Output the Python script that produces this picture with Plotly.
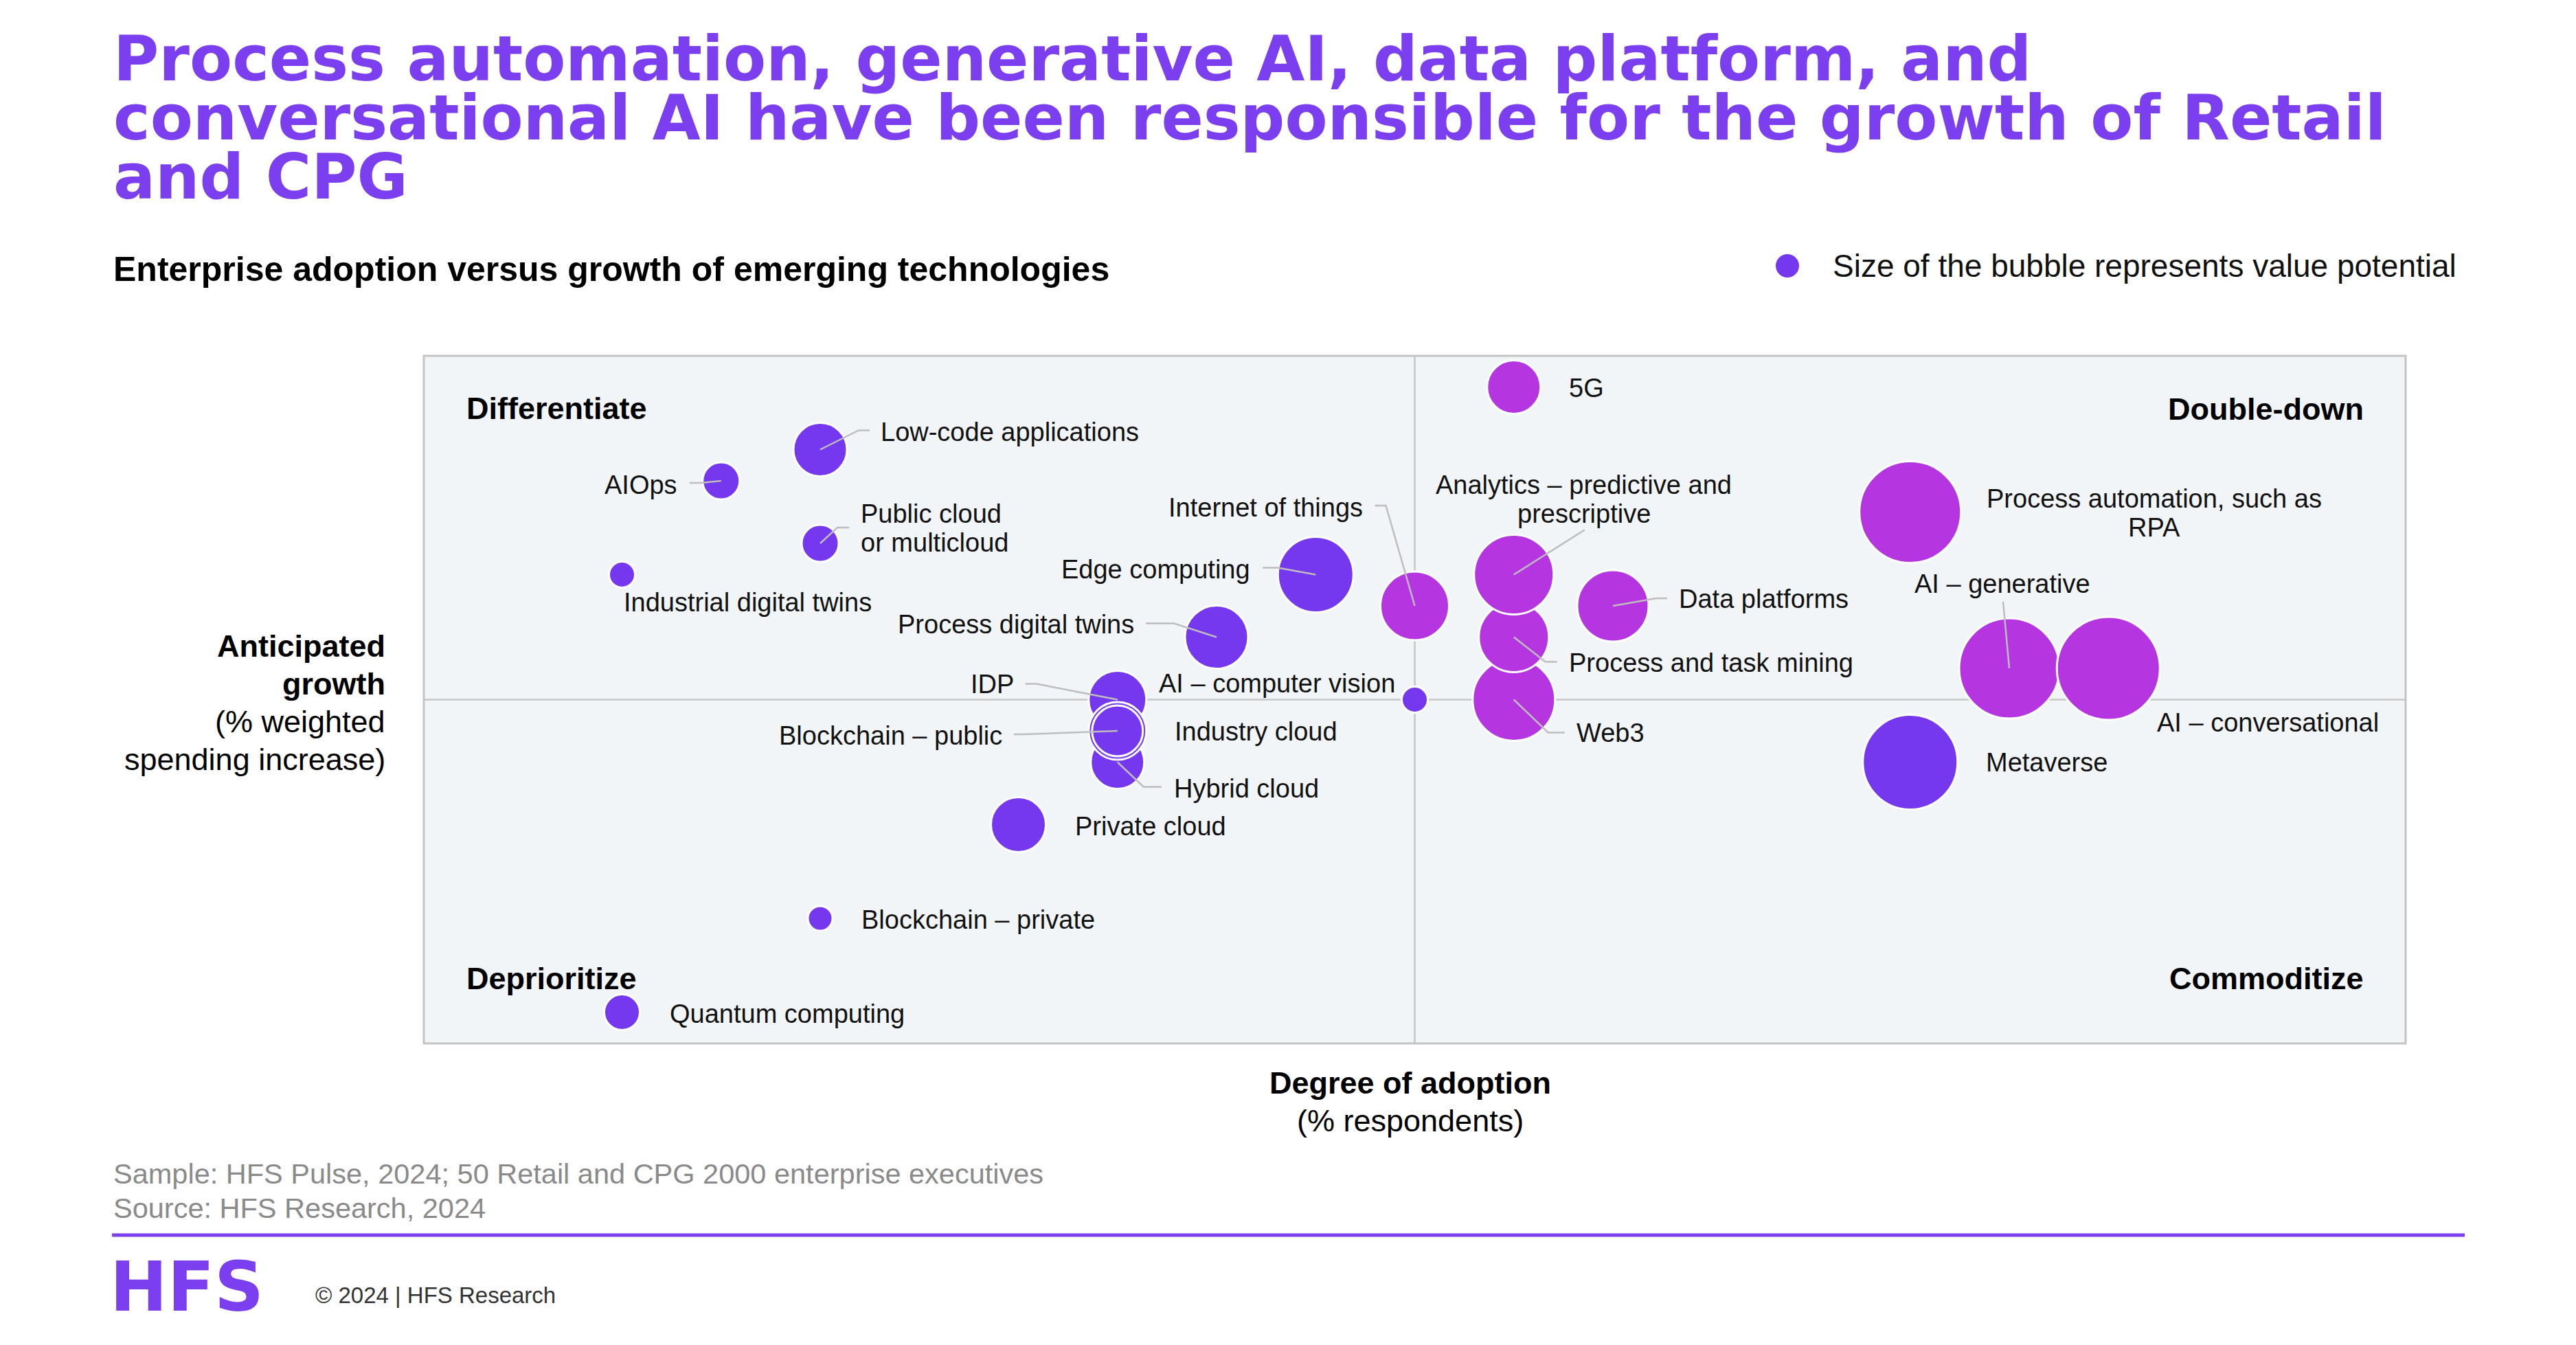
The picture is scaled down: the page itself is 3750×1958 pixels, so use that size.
import plotly.graph_objects as go

# ---------------- data ----------------
technologies = [
    "Industrial digital twins", "AIOps", "Quantum computing", "Low-code applications",
    "Public cloud or multicloud", "Blockchain – private", "Private cloud", "IDP",
    "Hybrid cloud", "Industry cloud", "Blockchain – public", "Process digital twins",
    "Edge computing", "Internet of things", "AI – computer vision", "5G", "Web3",
    "Process and task mining", "Analytics – predictive and prescriptive", "Data platforms",
    "Process automation, such as RPA", "Metaverse", "AI – generative", "AI – conversational",
]
adoption = [2, 3, 2, 4, 4, 4, 6, 7, 7, 7, 7, 8, 9, 10, 10, 11, 11, 11, 11, 12, 15, 15, 16, 17]
growth = [15, 18, 1, 19, 16, 4, 7, 11, 9, 10, 10, 13, 15, 14, 11, 21, 11, 13, 15, 14, 17, 9, 12, 12]
value_potential = [38, 54, 52, 78, 54, 36, 80, 84, 78, 84, 74, 92, 110, 100, 38, 78, 120, 102,
                   116, 104, 148, 138, 146, 150]
group = ["core", "core", "core", "core", "core", "core", "core", "core", "core", "core", "core",
         "core", "core", "growth", "core", "growth", "growth", "growth", "growth", "growth",
         "growth", "core", "growth", "growth"]

title_lines = ["Process automation, generative AI, data platform, and",
               "conversational AI have been responsible for the growth of Retail",
               "and CPG"]

x_range = [0, 20]
y_range = [0, 22]

# ---------------- styles / layout ----------------
W, H = 3750, 1958
PL, PR, PT, PB = 617, 3502, 518, 1519
VIOLET = "#7538EE"
MAGENTA = "#B536E0"
TITLE_C = "#7B3FF0"
color_map = {"core": VIOLET, "growth": MAGENTA}
LBL_FONT = "Liberation Sans, Arial, sans-serif"
LBL_SIZE = 38
LEADER = "#BDBDBD"


def fx(X):
    return (X - PL) / (PR - PL)


def fy(Y):
    return (PB - Y) / (PB - PT)


# label placement: lines, anchor, dx, dy (px, y down), leader points (px, y down)
labels = {
    "Low-code applications": (["Low-code applications"], "left", 86, -26, [(0, 0), (56, -28), (72, -28)]),
    "AIOps": (["AIOps"], "right", -62, 6, [(0, 0), (-30, 3), (-46, 3)]),
    "Public cloud or multicloud": (["Public cloud", "or multicloud"], "left", 57, -22,
                                   [(0, 0), (25, -23), (42, -23)]),
    "Industrial digital twins": (["Industrial digital twins"], "left", 0, 40, None),
    "Edge computing": (["Edge computing"], "right", -93, -8, [(0, 0), (-55, -10), (-77, -10)]),
    "Internet of things": (["Internet of things"], "right", -74, -143, [(0, 0), (-42, -146), (-58, -146)]),
    "Process digital twins": (["Process digital twins"], "right", -118, -19, [(0, 0), (-62, -20), (-103, -20)]),
    "IDP": (["IDP"], "right", -149, -23, [(0, 0), (-118, -23), (-134, -23)]),
    "AI – computer vision": (["AI – computer vision"], "right", -27, -24, None),
    "Industry cloud": (["Industry cloud"], "left", 81, 1, None),
    "Blockchain – public": (["Blockchain – public"], "right", -166, 7, [(0, 0), (-138, 5), (-151, 5)]),
    "Hybrid cloud": (["Hybrid cloud"], "left", 80, 38, [(0, 0), (38, 36), (64, 36)]),
    "Private cloud": (["Private cloud"], "left", 80, 2, None),
    "Blockchain – private": (["Blockchain – private"], "left", 58, 2, None),
    "Quantum computing": (["Quantum computing"], "left", 67, 2, None),
    "5G": (["5G"], "left", 78, 1, None),
    "Analytics – predictive and prescriptive": (["Analytics – predictive and", "prescriptive"], "center",
                                                102, -110, [(0, 0), (103, -65)]),
    "Process and task mining": (["Process and task mining"], "left", 78, 37, [(0, 0), (46, 36), (63, 36)]),
    "Web3": (["Web3"], "left", 89, 48, [(0, 0), (50, 48), (74, 48)]),
    "Data platforms": (["Data platforms"], "left", 94, -10, [(0, 0), (63, -11), (79, -11)]),
    "Process automation, such as RPA": (["Process automation, such as", "RPA"], "center", 355, 1, None),
    "AI – generative": (["AI – generative"], "center", -10, -123, [(0, 0), (-9, -97)]),
    "AI – conversational": (["AI – conversational"], "left", 69, 79, None),
    "Metaverse": (["Metaverse"], "left", 108, 0, None),
}

fig = go.Figure()
fig.add_trace(go.Scatter(
    x=adoption, y=growth, mode="markers",
    text=technologies, hoverinfo="text",
    marker=dict(size=value_potential, sizemode="diameter", sizeref=1,
                color=[color_map[g] for g in group], opacity=1,
                line=dict(color="white", width=3)),
    showlegend=False,
))

shapes = []
annotations = []

# quadrant dividers and border
xm = (x_range[0] + x_range[1]) / 2
ym = (y_range[0] + y_range[1]) / 2
shapes.append(dict(type="line", xref="x", yref="paper", x0=xm, x1=xm, y0=0, y1=1,
                   line=dict(color="#C6C6C6", width=2.5), layer="below"))
shapes.append(dict(type="line", xref="paper", yref="y", x0=0, x1=1, y0=ym, y1=ym,
                   line=dict(color="#C6C6C6", width=2.5), layer="below"))
shapes.append(dict(type="rect", xref="paper", yref="paper", x0=0, x1=1, y0=0, y1=1,
                   line=dict(color="#C4C4C4", width=3), layer="below"))

# labels & leaders
for tech, xv, yv in zip(technologies, adoption, growth):
    lines, anchor, dx, dy, leader = labels[tech]
    n = len(lines)
    for k, ln in enumerate(lines):
        off = dy + (k - (n - 1) / 2) * 42
        annotations.append(dict(x=xv, y=yv, xref="x", yref="y", text=ln, showarrow=False,
                                xanchor=anchor, yanchor="middle", xshift=dx, yshift=-off,
                                font=dict(family=LBL_FONT, size=LBL_SIZE, color="#111111")))
    if leader:
        path = "M " + " L ".join(f"{px},{-py}" for px, py in leader)
        shapes.append(dict(type="path", xref="x", yref="y", xsizemode="pixel", ysizemode="pixel",
                           xanchor=xv, yanchor=yv, path=path,
                           line=dict(color=LEADER, width=2.5), layer="above"))

# quadrant names
for txt, X, Y, anc in [("Differentiate", 677, 594, "left"), ("Double-down", 3443, 595, "right"),
                       ("Deprioritize", 677, 1424, "left"), ("Commoditize", 3443, 1424, "right")]:
    annotations.append(dict(x=fx(X), y=fy(Y), xref="paper", yref="paper", text=f"<b>{txt}</b>",
                            showarrow=False, xanchor=anc, yanchor="middle",
                            font=dict(family=LBL_FONT, size=45, color="#000000")))

# title: one text block; base size sets line pitch (1.3 x 66 = 86 px), inner span sets glyph size
title_html = "<br>".join(f'<span style="font-size:90.5px"><b>{t}</b></span>' for t in title_lines)
annotations.append(dict(x=fx(163), y=fy(172), xref="paper", yref="paper", text=title_html,
                        showarrow=False, xanchor="left", yanchor="middle", align="left",
                        font=dict(family="DejaVu Sans", size=66, color=TITLE_C)))

# subtitle and legend note
annotations.append(dict(x=fx(163), y=fy(392), xref="paper", yref="paper",
                        text="<b>Enterprise adoption versus growth of emerging technologies</b>",
                        showarrow=False, xanchor="left", yanchor="middle",
                        font=dict(family=LBL_FONT, size=50, color="#000000")))
annotations.append(dict(x=fx(2666), y=fy(387), xref="paper", yref="paper",
                        text="Size of the bubble represents value potential",
                        showarrow=False, xanchor="left", yanchor="middle",
                        font=dict(family=LBL_FONT, size=46, color="#111111")))
shapes.append(dict(type="circle", xref="paper", yref="paper", xsizemode="pixel", ysizemode="pixel",
                   xanchor=fx(2602), yanchor=fy(387), x0=-17, x1=17, y0=-17, y1=17,
                   fillcolor=VIOLET, line=dict(width=0)))

# axis titles
for txt, Y in [("<b>Anticipated</b>", 940), ("<b>growth</b>", 995),
               ("(% weighted", 1050), ("spending increase)", 1105)]:
    annotations.append(dict(x=fx(563), y=fy(Y), xref="paper", yref="paper", text=txt,
                            showarrow=False, xanchor="right", yanchor="middle",
                            font=dict(family=LBL_FONT, size=45, color="#000000")))
for txt, Y in [("<b>Degree of adoption</b>", 1576), ("(% respondents)", 1631)]:
    annotations.append(dict(x=fx(2053), y=fy(Y), xref="paper", yref="paper", text=txt,
                            showarrow=False, xanchor="center", yanchor="middle",
                            font=dict(family=LBL_FONT, size=45, color="#000000")))

# footer
for txt, Y in [("Sample: HFS Pulse, 2024; 50 Retail and CPG 2000 enterprise executives", 1708),
               ("Source: HFS Research, 2024", 1758)]:
    annotations.append(dict(x=fx(163), y=fy(Y), xref="paper", yref="paper", text=txt,
                            showarrow=False, xanchor="left", yanchor="middle",
                            font=dict(family=LBL_FONT, size=41.5, color="#8A8A8A")))
shapes.append(dict(type="line", xref="paper", yref="paper", x0=fx(163), x1=fx(3588),
                   y0=fy(1798), y1=fy(1798), line=dict(color=TITLE_C, width=5)))
annotations.append(dict(x=fx(158), y=fy(1874), xref="paper", yref="paper", text="<b>HFS</b>",
                        showarrow=False, xanchor="left", yanchor="middle",
                        font=dict(family="DejaVu Sans", size=100, color=TITLE_C)))
annotations.append(dict(x=fx(457), y=fy(1885), xref="paper", yref="paper",
                        text="© 2024 | HFS Research", showarrow=False, xanchor="left", yanchor="middle",
                        font=dict(family=LBL_FONT, size=33, color="#333333")))

fig.update_layout(
    width=W, height=H, autosize=False,
    margin=dict(l=PL, r=W - PR, t=PT, b=H - PB, pad=0),
    paper_bgcolor="white", plot_bgcolor="#F2F5F8",
    xaxis=dict(range=x_range, visible=False, fixedrange=True),
    yaxis=dict(range=y_range, visible=False, fixedrange=True),
    shapes=shapes, annotations=annotations,
    hovermode="closest",
)

fig.write_html("out.html", config={"displayModeBar": False})
with open("out.html", "r", encoding="utf-8") as f:
    html = f.read()
html = html.replace("<head>", "<head><style>html,body{margin:0;padding:0;overflow:hidden;}</style>", 1)
with open("out.html", "w", encoding="utf-8") as f:
    f.write(html)
